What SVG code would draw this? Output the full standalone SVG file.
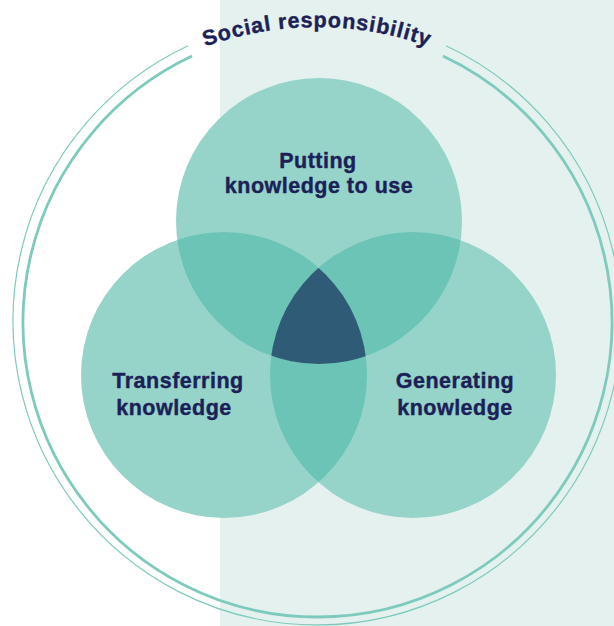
<svg xmlns="http://www.w3.org/2000/svg" width="614" height="626" viewBox="0 0 614 626">
<style>
.lbl{font-family:"Liberation Sans",Arial,sans-serif;font-weight:bold;font-size:21.5px;fill:#1b2157;stroke:#1b2157;stroke-width:0.4px;text-anchor:middle;letter-spacing:0.5px}
.arc{font-family:"Liberation Sans",Arial,sans-serif;font-weight:bold;font-size:21.5px;fill:#1b2157;stroke:#1b2157;stroke-width:0.4px;letter-spacing:0.9px}
.c{fill:#96d4ca}
.lens{fill:#6cc4b7}
.ring{fill:none;stroke:#7ecbbd}
</style>
<defs>
<clipPath id="cA"><circle cx="319" cy="221" r="143"/></clipPath>
<clipPath id="cB"><circle cx="224" cy="375" r="143"/></clipPath>
<clipPath id="cC"><circle cx="413" cy="375" r="143"/></clipPath>
<path id="tp" d="M -13 357 A 330 330 0 0 1 647 357"/>
</defs>
<rect x="0" y="0" width="614" height="626" fill="#ffffff"/>
<rect x="220" y="0" width="394" height="626" fill="#e4f1ee"/>
<g id="social-responsibility">
<path class="ring" stroke-width="2.8" d="M 192 56.1 A 294.5 294.5 0 1 0 443 56.1"/>
<path class="ring" stroke-width="1.2" d="M 188 45.7 A 304 304 0 1 0 446 45.7"/>
<text class="arc"><textPath href="#tp" startOffset="50%" text-anchor="middle">Social responsibility</textPath></text>
</g>
<g id="putting">
<circle class="c" cx="319" cy="221" r="143"/>
</g>
<g id="transferring">
<circle class="c" cx="224" cy="375" r="143"/>
</g>
<g id="generating">
<circle class="c" cx="413" cy="375" r="143"/>
</g>
<g id="overlaps">
<circle class="lens" cx="224" cy="375" r="143" clip-path="url(#cA)"/>
<circle class="lens" cx="413" cy="375" r="143" clip-path="url(#cA)"/>
<circle class="lens" cx="413" cy="375" r="143" clip-path="url(#cB)"/>
<g clip-path="url(#cB)"><circle cx="413" cy="375" r="143" fill="#2f5b76" clip-path="url(#cA)"/></g>
</g>
<g id="labels">
<text class="lbl" x="318" y="168">Putting</text>
<text class="lbl" x="319" y="193">knowledge to use</text>
<text class="lbl" x="178" y="388">Transferring</text>
<text class="lbl" x="174" y="415">knowledge</text>
<text class="lbl" x="455" y="388">Generating</text>
<text class="lbl" x="455" y="415">knowledge</text>
</g>
</svg>
